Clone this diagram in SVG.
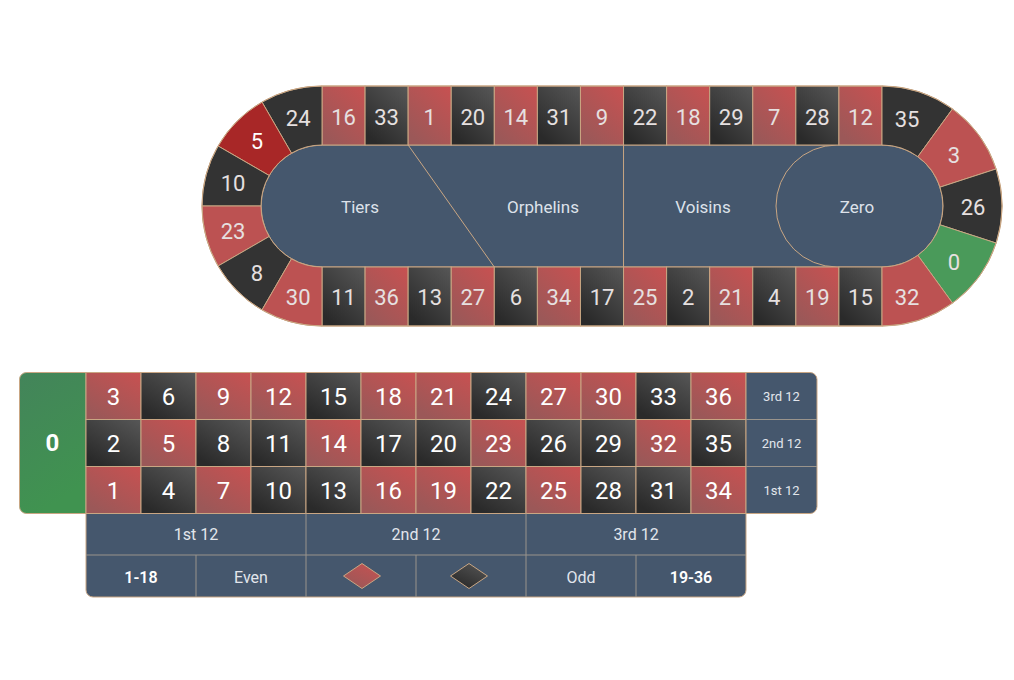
<svg xmlns="http://www.w3.org/2000/svg" width="1014" height="680" viewBox="0 0 1014 680">
<defs>
<linearGradient id="gr" x1="1" y1="0" x2="0.3" y2="1"><stop offset="0" stop-color="#c85151"/><stop offset="1" stop-color="#9b5858"/></linearGradient>
<linearGradient id="gb" x1="1" y1="0" x2="0.3" y2="1"><stop offset="0" stop-color="#575757"/><stop offset="1" stop-color="#2a2a2a"/></linearGradient>
<linearGradient id="gg" x1="0" y1="0" x2="0.3" y2="1"><stop offset="0" stop-color="#43845a"/><stop offset="1" stop-color="#409350"/></linearGradient>
<style>
.s{stroke:#c9a683;stroke-width:1}
.r{fill:url(#gr)}
.b{fill:url(#gb)}
.ar{fill:#bc5252}
.ab{fill:#333333}
.ah{fill:#a82727}
.ag{fill:#4a9a5a}
.sl{fill:#45576d}
.tn{font-family:Roboto,"Liberation Sans",sans-serif;font-size:22px;fill:#e6e0e0;text-anchor:middle;dominant-baseline:central}
.tt{font-family:Roboto,"Liberation Sans",sans-serif;font-size:24px;fill:#ffffff;text-anchor:middle;dominant-baseline:central}
.lb{font-family:Roboto,"Liberation Sans",sans-serif;font-size:17px;fill:#dde2ea;text-anchor:middle;dominant-baseline:central}
.lt{font-family:Roboto,"Liberation Sans",sans-serif;font-size:16px;fill:#e2e6ec;text-anchor:middle;dominant-baseline:central}
.ls{font-family:Roboto,"Liberation Sans",sans-serif;font-size:13px;fill:#e2e6ec;text-anchor:middle;dominant-baseline:central}
.dv{stroke:#9a948c;stroke-width:1;fill:none}
</style>
</defs>
<rect width="1014" height="680" fill="#ffffff"/>

<!-- Racetrack -->
<g id="racetrack">
<g id="track-inner">
<path class="sl s" d="M322 145 H882 A61 61 0 0 1 882 267 H322 A61 61 0 0 1 322 145 Z"/>
</g>
<g id="sector-tiers"><text class="lb" x="360" y="207">Tiers</text></g>
<g id="sector-orphelins"><text class="lb" x="543" y="207">Orphelins</text></g>
<g id="sector-voisins"><text class="lb" x="703" y="207">Voisins</text></g>
<g id="sector-zero">
<path class="sl s" d="M837 145 H882 A61 61 0 0 1 882 267 H837 A61 61 0 0 1 837 145 Z"/>
<text class="lb" x="857" y="207">Zero</text>
</g>

<!-- top row -->
<g id="t16"><rect class="r s" x="322" y="86" width="43.08" height="59"/><text class="tn" x="343.54" y="117">16</text></g>
<g id="t33"><rect class="b s" x="365.08" y="86" width="43.08" height="59"/><text class="tn" x="386.62" y="117">33</text></g>
<g id="t1"><rect class="r s" x="408.15" y="86" width="43.08" height="59"/><text class="tn" x="429.69" y="117">1</text></g>
<g id="t20"><rect class="b s" x="451.23" y="86" width="43.08" height="59"/><text class="tn" x="472.77" y="117">20</text></g>
<g id="t14"><rect class="r s" x="494.31" y="86" width="43.08" height="59"/><text class="tn" x="515.85" y="117">14</text></g>
<g id="t31"><rect class="b s" x="537.38" y="86" width="43.08" height="59"/><text class="tn" x="558.92" y="117">31</text></g>
<g id="t9"><rect class="r s" x="580.46" y="86" width="43.08" height="59"/><text class="tn" x="602" y="117">9</text></g>
<g id="t22"><rect class="b s" x="623.54" y="86" width="43.08" height="59"/><text class="tn" x="645.08" y="117">22</text></g>
<g id="t18"><rect class="r s" x="666.62" y="86" width="43.08" height="59"/><text class="tn" x="688.15" y="117">18</text></g>
<g id="t29"><rect class="b s" x="709.69" y="86" width="43.08" height="59"/><text class="tn" x="731.23" y="117">29</text></g>
<g id="t7"><rect class="r s" x="752.77" y="86" width="43.08" height="59"/><text class="tn" x="774.31" y="117">7</text></g>
<g id="t28"><rect class="b s" x="795.85" y="86" width="43.08" height="59"/><text class="tn" x="817.38" y="117">28</text></g>
<g id="t12"><rect class="r s" x="838.92" y="86" width="43.08" height="59"/><text class="tn" x="860.46" y="117">12</text></g>

<!-- bottom row -->
<g id="b11"><rect class="b s" x="322" y="267" width="43.08" height="59"/><text class="tn" x="343.54" y="297">11</text></g>
<g id="b36"><rect class="r s" x="365.08" y="267" width="43.08" height="59"/><text class="tn" x="386.62" y="297">36</text></g>
<g id="b13"><rect class="b s" x="408.15" y="267" width="43.08" height="59"/><text class="tn" x="429.69" y="297">13</text></g>
<g id="b27"><rect class="r s" x="451.23" y="267" width="43.08" height="59"/><text class="tn" x="472.77" y="297">27</text></g>
<g id="b6"><rect class="b s" x="494.31" y="267" width="43.08" height="59"/><text class="tn" x="515.85" y="297">6</text></g>
<g id="b34"><rect class="r s" x="537.38" y="267" width="43.08" height="59"/><text class="tn" x="558.92" y="297">34</text></g>
<g id="b17"><rect class="b s" x="580.46" y="267" width="43.08" height="59"/><text class="tn" x="602" y="297">17</text></g>
<g id="b25"><rect class="r s" x="623.54" y="267" width="43.08" height="59"/><text class="tn" x="645.08" y="297">25</text></g>
<g id="b2"><rect class="b s" x="666.62" y="267" width="43.08" height="59"/><text class="tn" x="688.15" y="297">2</text></g>
<g id="b21"><rect class="r s" x="709.69" y="267" width="43.08" height="59"/><text class="tn" x="731.23" y="297">21</text></g>
<g id="b4"><rect class="b s" x="752.77" y="267" width="43.08" height="59"/><text class="tn" x="774.31" y="297">4</text></g>
<g id="b19"><rect class="r s" x="795.85" y="267" width="43.08" height="59"/><text class="tn" x="817.38" y="297">19</text></g>
<g id="b15"><rect class="b s" x="838.92" y="267" width="43.08" height="59"/><text class="tn" x="860.46" y="297">15</text></g>

<!-- left arc -->
<g id="l24"><path class="ab s" d="M322 86 A120 120 0 0 0 262 102.08 L291.5 153.17 A61 61 0 0 1 322 145 Z"/><text class="tn" x="298.2" y="118">24</text></g>
<g id="l5"><path class="ah s" d="M262 102.08 A120 120 0 0 0 218.08 146 L269.17 175.5 A61 61 0 0 1 291.5 153.17 Z"/><text class="tn" x="256.9" y="141.5" style="fill:#fff">5</text></g>
<g id="l10"><path class="ab s" d="M218.08 146 A120 120 0 0 0 202 206 L261 206 A61 61 0 0 1 269.17 175.5 Z"/><text class="tn" x="233.1" y="183.5">10</text></g>
<g id="l23"><path class="ar s" d="M202 206 A120 120 0 0 0 218.08 266 L269.17 236.5 A61 61 0 0 1 261 206 Z"/><text class="tn" x="233.1" y="231.5">23</text></g>
<g id="l8"><path class="ab s" d="M218.08 266 A120 120 0 0 0 262 309.92 L291.5 258.83 A61 61 0 0 1 269.17 236.5 Z"/><text class="tn" x="256.9" y="273.5">8</text></g>
<g id="l30"><path class="ar s" d="M262 309.92 A120 120 0 0 0 322 326 L322 267 A61 61 0 0 1 291.5 258.83 Z"/><text class="tn" x="298.2" y="297">30</text></g>

<!-- right arc -->
<g id="r35"><path class="ab s" d="M882 86 A120 120 0 0 1 952.53 108.92 L917.86 156.65 A61 61 0 0 0 882 145 Z"/><text class="tn" x="907" y="119">35</text></g>
<g id="r3"><path class="ar s" d="M952.53 108.92 A120 120 0 0 1 996.13 168.92 L940.02 187.15 A61 61 0 0 0 917.86 156.65 Z"/><text class="tn" x="954" y="155">3</text></g>
<g id="r26"><path class="ab s" d="M996.13 168.92 A120 120 0 0 1 996.13 243.08 L940.02 224.85 A61 61 0 0 0 940.02 187.15 Z"/><text class="tn" x="973" y="207">26</text></g>
<g id="r0"><path class="ag s" d="M996.13 243.08 A120 120 0 0 1 952.53 303.08 L917.86 255.35 A61 61 0 0 0 940.02 224.85 Z"/><text class="tn" x="954" y="262">0</text></g>
<g id="r32"><path class="ar s" d="M952.53 303.08 A120 120 0 0 1 882 326 L882 267 A61 61 0 0 0 917.86 255.35 Z"/><text class="tn" x="907" y="297">32</text></g>
</g>

<g id="connectors">
<line class="s" x1="408.15" y1="145" x2="494.31" y2="267"/>
<line class="s" x1="623.54" y1="145" x2="623.54" y2="267"/>
<path class="s" fill="none" d="M322 86 H882 A120 120 0 0 1 882 326 H322 A120 120 0 0 1 322 86 Z"/>
</g>

<!-- Table -->
<g id="table">
<g id="z0"><path fill="url(#gg)" class="s" d="M86 372.5 V513.5 H26.5 A7 7 0 0 1 19.5 506.5 V379.5 A7 7 0 0 1 26.5 372.5 Z"/><text class="tt" x="52.5" y="443" style="font-weight:bold">0</text></g>

<g id="n3"><rect class="r s" x="86" y="372.5" width="55" height="47"/><text class="tt" x="113.5" y="397">3</text></g>
<g id="n6"><rect class="b s" x="141" y="372.5" width="55" height="47"/><text class="tt" x="168.5" y="397">6</text></g>
<g id="n9"><rect class="r s" x="196" y="372.5" width="55" height="47"/><text class="tt" x="223.5" y="397">9</text></g>
<g id="n12"><rect class="r s" x="251" y="372.5" width="55" height="47"/><text class="tt" x="278.5" y="397">12</text></g>
<g id="n15"><rect class="b s" x="306" y="372.5" width="55" height="47"/><text class="tt" x="333.5" y="397">15</text></g>
<g id="n18"><rect class="r s" x="361" y="372.5" width="55" height="47"/><text class="tt" x="388.5" y="397">18</text></g>
<g id="n21"><rect class="r s" x="416" y="372.5" width="55" height="47"/><text class="tt" x="443.5" y="397">21</text></g>
<g id="n24"><rect class="b s" x="471" y="372.5" width="55" height="47"/><text class="tt" x="498.5" y="397">24</text></g>
<g id="n27"><rect class="r s" x="526" y="372.5" width="55" height="47"/><text class="tt" x="553.5" y="397">27</text></g>
<g id="n30"><rect class="r s" x="581" y="372.5" width="55" height="47"/><text class="tt" x="608.5" y="397">30</text></g>
<g id="n33"><rect class="b s" x="636" y="372.5" width="55" height="47"/><text class="tt" x="663.5" y="397">33</text></g>
<g id="n36"><rect class="r s" x="691" y="372.5" width="55" height="47"/><text class="tt" x="718.5" y="397">36</text></g>

<g id="n2"><rect class="b s" x="86" y="419.5" width="55" height="47"/><text class="tt" x="113.5" y="444">2</text></g>
<g id="n5"><rect class="r s" x="141" y="419.5" width="55" height="47"/><text class="tt" x="168.5" y="444">5</text></g>
<g id="n8"><rect class="b s" x="196" y="419.5" width="55" height="47"/><text class="tt" x="223.5" y="444">8</text></g>
<g id="n11"><rect class="b s" x="251" y="419.5" width="55" height="47"/><text class="tt" x="278.5" y="444">11</text></g>
<g id="n14"><rect class="r s" x="306" y="419.5" width="55" height="47"/><text class="tt" x="333.5" y="444">14</text></g>
<g id="n17"><rect class="b s" x="361" y="419.5" width="55" height="47"/><text class="tt" x="388.5" y="444">17</text></g>
<g id="n20"><rect class="b s" x="416" y="419.5" width="55" height="47"/><text class="tt" x="443.5" y="444">20</text></g>
<g id="n23"><rect class="r s" x="471" y="419.5" width="55" height="47"/><text class="tt" x="498.5" y="444">23</text></g>
<g id="n26"><rect class="b s" x="526" y="419.5" width="55" height="47"/><text class="tt" x="553.5" y="444">26</text></g>
<g id="n29"><rect class="b s" x="581" y="419.5" width="55" height="47"/><text class="tt" x="608.5" y="444">29</text></g>
<g id="n32"><rect class="r s" x="636" y="419.5" width="55" height="47"/><text class="tt" x="663.5" y="444">32</text></g>
<g id="n35"><rect class="b s" x="691" y="419.5" width="55" height="47"/><text class="tt" x="718.5" y="444">35</text></g>

<g id="n1"><rect class="r s" x="86" y="466.5" width="55" height="47"/><text class="tt" x="113.5" y="491">1</text></g>
<g id="n4"><rect class="b s" x="141" y="466.5" width="55" height="47"/><text class="tt" x="168.5" y="491">4</text></g>
<g id="n7"><rect class="r s" x="196" y="466.5" width="55" height="47"/><text class="tt" x="223.5" y="491">7</text></g>
<g id="n10"><rect class="b s" x="251" y="466.5" width="55" height="47"/><text class="tt" x="278.5" y="491">10</text></g>
<g id="n13"><rect class="b s" x="306" y="466.5" width="55" height="47"/><text class="tt" x="333.5" y="491">13</text></g>
<g id="n16"><rect class="r s" x="361" y="466.5" width="55" height="47"/><text class="tt" x="388.5" y="491">16</text></g>
<g id="n19"><rect class="r s" x="416" y="466.5" width="55" height="47"/><text class="tt" x="443.5" y="491">19</text></g>
<g id="n22"><rect class="b s" x="471" y="466.5" width="55" height="47"/><text class="tt" x="498.5" y="491">22</text></g>
<g id="n25"><rect class="r s" x="526" y="466.5" width="55" height="47"/><text class="tt" x="553.5" y="491">25</text></g>
<g id="n28"><rect class="b s" x="581" y="466.5" width="55" height="47"/><text class="tt" x="608.5" y="491">28</text></g>
<g id="n31"><rect class="b s" x="636" y="466.5" width="55" height="47"/><text class="tt" x="663.5" y="491">31</text></g>
<g id="n34"><rect class="r s" x="691" y="466.5" width="55" height="47"/><text class="tt" x="718.5" y="491">34</text></g>

<g id="columns">
<path class="sl s" d="M746 372.5 H810 A7 7 0 0 1 817 379.5 V506.5 A7 7 0 0 1 810 513.5 H746 Z"/>
<line class="dv" x1="746" y1="419.5" x2="817" y2="419.5"/>
<line class="dv" x1="746" y1="466.5" x2="817" y2="466.5"/>
<g id="col3"><text class="ls" x="781.5" y="396">3rd 12</text></g>
<g id="col2"><text class="ls" x="781.5" y="443">2nd 12</text></g>
<g id="col1"><text class="ls" x="781.5" y="490">1st 12</text></g>
</g>

<g id="outside">
<path class="sl s" d="M86 513.5 H746 V590 A7 7 0 0 1 739 597 H93 A7 7 0 0 1 86 590 Z"/>
<line class="dv" x1="86" y1="555" x2="746" y2="555"/>
<line class="dv" x1="306" y1="513.5" x2="306" y2="597"/>
<line class="dv" x1="526" y1="513.5" x2="526" y2="597"/>
<line class="dv" x1="196" y1="555" x2="196" y2="597"/>
<line class="dv" x1="416" y1="555" x2="416" y2="597"/>
<line class="dv" x1="636" y1="555" x2="636" y2="597"/>
<g id="doz1"><text class="lt" x="196" y="534">1st 12</text></g>
<g id="doz2"><text class="lt" x="416" y="534">2nd 12</text></g>
<g id="doz3"><text class="lt" x="636" y="534">3rd 12</text></g>
<g id="low"><text class="lt" x="141" y="577" style="font-weight:600;fill:#fff">1-18</text></g>
<g id="even"><text class="lt" x="251" y="577">Even</text></g>
<g id="red"><path class="r s" d="M343.5 576 L362 563.5 L380.5 576 L362 588.5 Z"/></g>
<g id="black"><path class="b s" d="M450.5 576 L469 563.5 L487.5 576 L469 588.5 Z"/></g>
<g id="odd"><text class="lt" x="581" y="577">Odd</text></g>
<g id="high"><text class="lt" x="691" y="577" style="font-weight:600;fill:#fff">19-36</text></g>
</g>
</g>
</svg>
